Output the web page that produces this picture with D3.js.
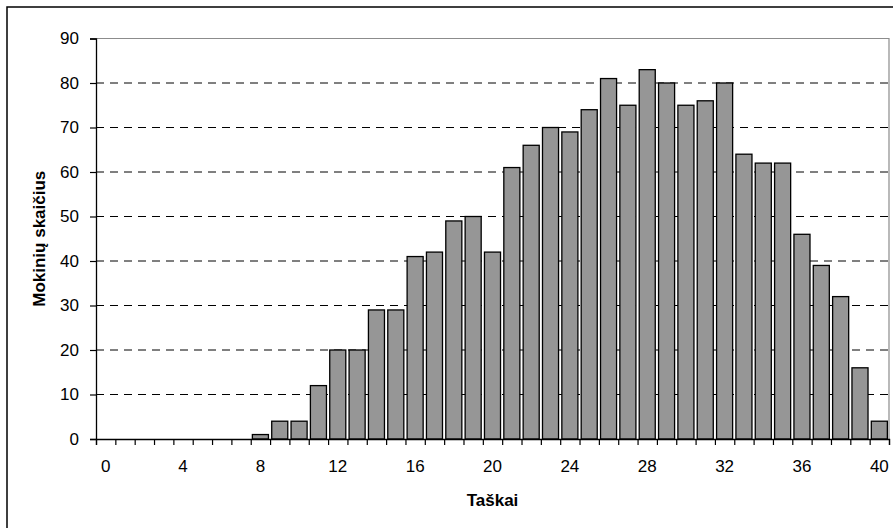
<!DOCTYPE html>
<html>
<head>
<meta charset="utf-8">
<script src="https://cdn.jsdelivr.net/npm/d3@7"></script>
<style>
  body { margin: 0; background: #fff; }
  svg { display: block; font-family: Arial, "Liberation Sans", sans-serif; }
</style>
</head>
<body>
<div id="graph"></div>
<script>
const points = d3.range(0, 41)
const students = [0, 0, 0, 0, 0, 0, 0, 0, 1, 4, 4, 12, 20, 20, 29, 29, 41, 42, 49, 50, 42,
    61, 66, 70, 69, 74, 81, 75, 83, 80, 75, 76, 80, 64, 62, 62, 46, 39, 32, 16, 4]
const yTicks = [0, 10, 20, 30, 40, 50, 60, 70, 80, 90]
const xLabelStep = 4

const w = 893;
const h = 528;
const padL = 96, padR = 889, padT = 38.5, padB = 439;
const fontSize = '17px';

const svg = d3.select('#graph').append('svg').attr('width', w).attr('height', h)

// outer frame (runs off the right and bottom edges)
svg.append('rect')
    .attr('x', 7).attr('y', 7)
    .attr('width', 900).attr('height', 540)
    .attr('fill', 'none').attr('stroke', '#000').attr('stroke-width', 1.5)

const x = d3.scaleBand().domain(points).range([padL, padR]).paddingInner(0.17).paddingOuter(0.085)
const xEdge = d3.scaleLinear().domain([0, points.length]).range([padL, padR])
const y = d3.scaleLinear().domain([0, 90]).range([padB, padT])

// plot area frame (top/right gray)
svg.append('path')
    .attr('d', `M${padL},${padT}H${padR}V${padB}`)
    .attr('fill', 'none').attr('stroke', '#8c8c8c').attr('stroke-width', 1.2)

// dashed grid
svg.selectAll('line.grid')
    .data(yTicks.filter(d => d > 0 && d < 90))
    .enter()
    .append('line')
    .attr('class', 'grid')
    .attr('x1', padL).attr('x2', padR)
    .attr('y1', d => y(d)).attr('y2', d => y(d))
    .attr('stroke', '#000').attr('stroke-width', 1)
    .attr('stroke-dasharray', '8,6')

// bars
svg.selectAll('rect.bar')
    .data(points)
    .enter()
    .append('rect')
    .attr('class', 'bar')
    .attr('x', d => x(d))
    .attr('y', (d, i) => y(students[i]))
    .attr('width', x.bandwidth())
    .attr('height', (d, i) => y(0) - y(students[i]))
    .attr('fill', '#969696')
    .attr('stroke', '#000')
    .attr('stroke-width', 1.3)

// y axis
const yAxis = svg.append('g')
    .attr('transform', `translate(${padL},0)`)
    .call(d3.axisLeft(y).tickValues(yTicks).tickSize(6).tickPadding(11))
yAxis.select('.domain').attr('stroke', '#000').attr('stroke-width', 1.3)
yAxis.selectAll('line').attr('stroke', '#000').attr('stroke-width', 1.2)
yAxis.selectAll('text').attr('font-size', fontSize).attr('fill', '#000')
    .attr('font-family', 'Arial, "Liberation Sans", sans-serif')

// x axis: ticks at category edges, labels every 4
const xAxis = svg.append('g')
    .attr('transform', `translate(0,${padB})`)
    .call(d3.axisBottom(xEdge).tickValues(d3.range(0, points.length + 1)).tickSize(6).tickFormat(''))
xAxis.select('.domain').attr('stroke', '#000').attr('stroke-width', 1.3)
xAxis.selectAll('line').attr('stroke', '#000').attr('stroke-width', 1.2)

const xLab = svg.append('g')
    .attr('transform', `translate(0,${padB})`)
    .call(d3.axisBottom(x).tickValues(points.filter(d => d % xLabelStep === 0)).tickSize(0).tickPadding(21))
xLab.select('.domain').remove()
xLab.selectAll('text').attr('font-size', fontSize).attr('fill', '#000')
    .attr('font-family', 'Arial, "Liberation Sans", sans-serif')

// titles
svg.append('text')
    .attr('x', (padL + padR) / 2).attr('y', 506)
    .attr('text-anchor', 'middle')
    .attr('font-size', fontSize).attr('font-weight', 'bold')
    .text('Taškai')

svg.append('text')
    .attr('transform', `translate(45,${(padT + padB) / 2}) rotate(-90)`)
    .attr('text-anchor', 'middle')
    .attr('font-size', fontSize).attr('font-weight', 'bold')
    .text('Mokinių skaičius')
</script>
</body>
</html>
